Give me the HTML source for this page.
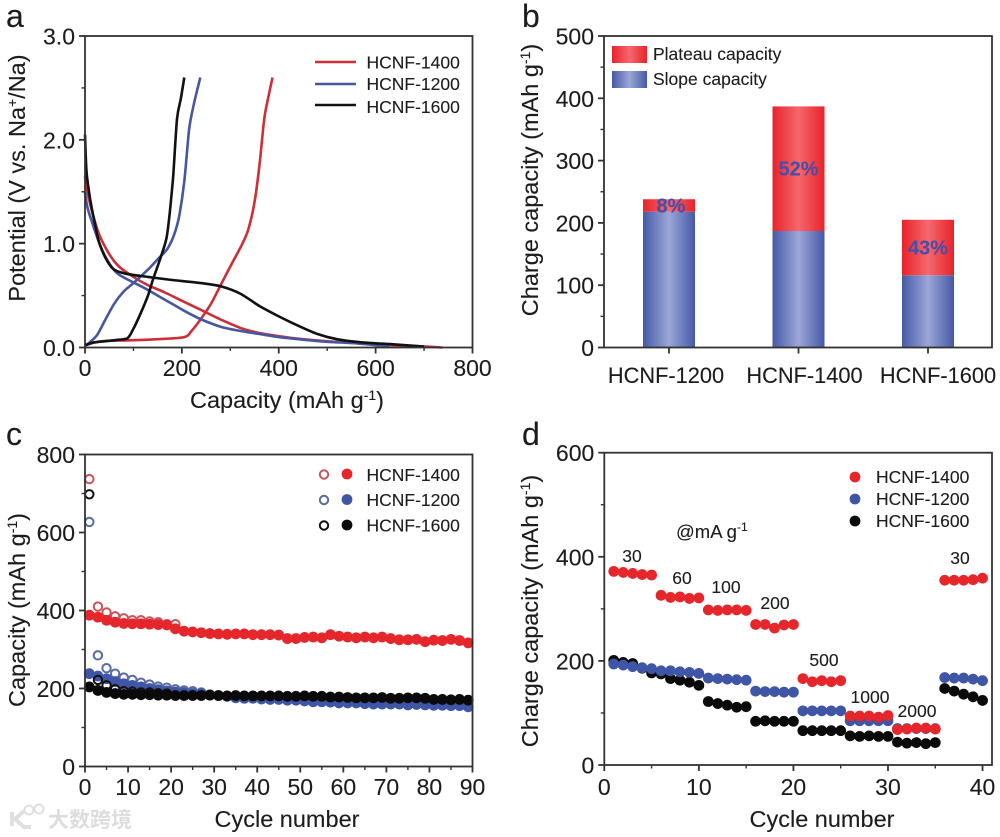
<!DOCTYPE html>
<html>
<head>
<meta charset="utf-8">
<title>HCNF electrochemical performance</title>
<style>
html,body{margin:0;padding:0;background:#fff;width:1000px;height:837px;overflow:hidden}
svg{display:block;filter:blur(0.35px)}
text{font-family:"Liberation Sans","Noto Sans CJK SC",sans-serif;fill:#1c1c1c;stroke:#1c1c1c;stroke-width:0.12px}
</style>
</head>
<body>
<svg id="fig" xmlns="http://www.w3.org/2000/svg" width="1000" height="837" viewBox="0 0 1000 837">
<defs>
<linearGradient id="gBlue" x1="0" x2="1" y1="0" y2="0"><stop offset="0" stop-color="#4659a6"/><stop offset="0.5" stop-color="#9ba7d6"/><stop offset="1" stop-color="#4659a6"/></linearGradient>
<linearGradient id="gRed" x1="0" x2="1" y1="0" y2="0"><stop offset="0" stop-color="#e9222a"/><stop offset="0.5" stop-color="#f4686e"/><stop offset="1" stop-color="#e9222a"/></linearGradient>
</defs>
<rect width="1000" height="837" fill="#fff"/>

<g id="panelA">
<text x="6" y="27" font-size="32">a</text>
<text x="287" y="408" font-size="23.500" text-anchor="middle">Capacity (mAh g<tspan font-size="14" dy="-8">-1</tspan><tspan dy="8">)</tspan></text>
<text transform="translate(25,178) rotate(-90)" font-size="23.500" text-anchor="middle">Potential (V vs. Na<tspan font-size="14" dy="-8">+</tspan><tspan dy="8">/Na)</tspan></text>
<g font-size="17.5">
<line x1="315" x2="356" y1="62" y2="62" stroke="#cc2f37" stroke-width="2.6"/>
<text x="366.500" y="68.500">HCNF-1400</text>
<line x1="315" x2="356" y1="84" y2="84" stroke="#47579f" stroke-width="2.6"/>
<text x="366.500" y="90">HCNF-1200</text>
<line x1="315" x2="356" y1="105" y2="105" stroke="#111" stroke-width="2.6"/>
<text x="366.500" y="113">HCNF-1600</text>
</g>
</g>

<g id="panelB">
<text x="522" y="27" font-size="32">b</text>
<text transform="translate(538,180) rotate(-90)" font-size="23.500" text-anchor="middle">Charge capacity (mAh g<tspan font-size="14" dy="-8">-1</tspan><tspan dy="8">)</tspan></text>
<g font-size="17.5">
<rect x="612" y="46" width="35" height="17" fill="url(#gRed)"/>
<text x="653" y="60">Plateau capacity</text>
<rect x="612" y="71" width="35" height="17" fill="url(#gBlue)"/>
<text x="653" y="85">Slope capacity</text>
</g>
</g>

<g id="panelC">
<text x="6" y="445" font-size="32">c</text>
<text x="287" y="827" font-size="23.500" text-anchor="middle">Cycle number</text>
<text transform="translate(25,610) rotate(-90)" font-size="23.500" text-anchor="middle">Capacity (mAh g<tspan font-size="14" dy="-8">-1</tspan><tspan dy="8">)</tspan></text>
<g font-size="17.5">
<circle cx="324" cy="474.500" r="4.200" fill="none" stroke="#c9545a" stroke-width="2"/>
<circle cx="347" cy="474" r="5.400" fill="#e5262b"/>
<text x="366.500" y="481">HCNF-1400</text>
<circle cx="324" cy="500" r="4.200" fill="none" stroke="#5a6aa5" stroke-width="2"/>
<circle cx="347" cy="499.500" r="5.400" fill="#3f55a5"/>
<text x="366.500" y="506">HCNF-1200</text>
<circle cx="324" cy="525.500" r="4.200" fill="none" stroke="#111" stroke-width="2"/>
<circle cx="347" cy="525" r="5.400" fill="#0a0a0a"/>
<text x="366.500" y="531.500">HCNF-1600</text>
</g>
</g>

<g id="panelD">
<text x="522" y="445" font-size="32">d</text>
<text x="822" y="827" font-size="23.500" text-anchor="middle">Cycle number</text>
<text transform="translate(538,611) rotate(-90)" font-size="23.500" text-anchor="middle">Charge capacity (mAh g<tspan font-size="14" dy="-8">-1</tspan><tspan dy="8">)</tspan></text>
<g font-size="17.5">
<circle cx="855" cy="477" r="5.400" fill="#e5262b"/>
<text x="876" y="483">HCNF-1400</text>
<circle cx="855" cy="499" r="5.400" fill="#3f55a5"/>
<text x="876" y="505">HCNF-1200</text>
<circle cx="855" cy="521" r="5.400" fill="#0a0a0a"/>
<text x="876" y="527">HCNF-1600</text>
</g>
<g font-size="17.5" text-anchor="middle">
<text x="676" y="538" font-size="18.5" text-anchor="start">@mA g<tspan font-size="12" dy="-7">-1</tspan></text>
<text x="632" y="562">30</text>
<text x="682" y="584">60</text>
<text x="726" y="593">100</text>
<text x="775" y="609">200</text>
<text x="824" y="666">500</text>
<text x="870" y="703">1000</text>
<text x="917" y="717">2000</text>
<text x="960" y="564">30</text>
</g>
</g>

<g opacity="0.9">
<path d="M12 812 V826 M24 811 L15 819 L24 827 H31" fill="none" stroke="#dcdcdc" stroke-width="4"/>
<circle cx="29" cy="810" r="4.500" fill="none" stroke="#dcdcdc" stroke-width="2"/>
<circle cx="39" cy="809" r="4.500" fill="none" stroke="#dcdcdc" stroke-width="2"/>
<text x="48" y="827" font-size="21" font-weight="700" style="fill:#dadada;stroke:none;font-family:'Noto Sans CJK SC',sans-serif">大数跨境</text>
</g>
</svg>

<script>
// Panel a: galvanostatic curves, capacity (mAh/g) and potential (V)
const a1400ChargeCap = [0,20,50,100,150,205,220,240,260,280,300,325,338,350,360,370,378,387];
const a1400ChargeV = [0.02,0.05,0.065,0.07,0.08,0.1,0.16,0.28,0.42,0.6,0.78,1.0,1.15,1.4,1.75,2.2,2.4,2.6];
const a1400DischargeCap = [0,5,15,30,50,70,100,130,165,200,240,280,320,360,400,450,500,600,700,738];
const a1400DischargeV = [1.65,1.5,1.3,1.08,0.9,0.78,0.68,0.6,0.53,0.45,0.36,0.27,0.19,0.14,0.11,0.08,0.06,0.03,0.01,0];
const a1200ChargeCap = [0,10,25,40,60,80,100,130,150,170,185,195,205,215,225,238];
const a1200ChargeV = [0.02,0.05,0.12,0.25,0.42,0.54,0.62,0.75,0.85,0.95,1.1,1.28,1.6,2.1,2.35,2.6];
const a1200DischargeCap = [0,5,15,30,45,65,90,120,150,180,210,240,280,320,360,400,450,500,560,628];
const a1200DischargeV = [1.5,1.35,1.2,1.0,0.85,0.72,0.65,0.58,0.5,0.42,0.34,0.27,0.2,0.16,0.13,0.1,0.075,0.055,0.04,0.01];
const a1600ChargeCap = [0,15,40,70,88,100,115,130,140,155,168,175,182,190,198,205];
const a1600ChargeV = [0.02,0.045,0.06,0.075,0.09,0.18,0.33,0.5,0.65,0.85,1.05,1.3,1.65,2.2,2.4,2.6];
const a1600DischargeCap = [0,3,10,20,30,45,60,85,130,180,240,280,320,360,400,440,480,520,570,640,700];
const a1600DischargeV = [2.05,1.7,1.45,1.2,1.0,0.84,0.75,0.71,0.68,0.65,0.62,0.59,0.52,0.4,0.3,0.21,0.13,0.08,0.05,0.03,0.01];
const aXTicks = ["0","200","400","600","800"];
const aYTicks = ["0.0","1.0","2.0","3.0"];

// Panel b: stacked bars
const bCategories = ["HCNF-1200","HCNF-1400","HCNF-1600"];
const bSlope = [218,187,116];
const bPlateau = [20,200,89];
const bPercent = ["8%","52%","43%"];
const bYTicks = ["0","100","200","300","400","500"];

// Panel c: long-term cycling (values at cycles 1,3,5,...)
const cFilled1400 = [388,383,375,370,367,366,366,365,364,363,353,347,345,343,341,340,339,340,340,338,338,338,337,328,328,331,332,330,338,334,332,330,332,330,332,328,325,325,326,320,324,323,326,323,317];
const cFilled1200 = [238,232,225,218,212,208,204,200,197,194,191,189,187,186,184,182,180,176,175,175,173,172,172,170,170,168,166,166,165,163,163,163,161,160,160,160,160,158,159,158,157,157,156,156,153];
const cFilled1600 = [204,195,190,187,185,185,184,184,183,183,182,182,182,182,183,182,181,182,181,181,181,181,181,180,180,181,180,180,178,178,177,176,176,176,177,175,175,176,176,175,172,172,171,172,170];
const cOpen1400 = [737,410,395,385,380,375,375,372,370,365,365];
const cOpen1200 = [627,285,252,238,228,222,215,210,205,202,198,195,193,190];
const cOpen1600 = [698,222,208,198,193,192,190,190,188,187];
const cXTicks = ["0","10","20","30","40","50","60","70","80","90"];
const cYTicks = ["0","200","400","600","800"];

// Panel d: rate capability (cycles 1..40)
const d1400 = [372,370,368,366,365,326,322,323,320,321,298,297,298,298,297,270,270,263,269,270,166,160,162,160,162,94,94,94,92,95,68,69,71,71,69,355,355,355,356,359];
const d1200 = [194,192,189,187,185,181,181,179,178,176,167,166,165,164,163,142,141,141,140,140,104,104,104,104,104,85,85,85,85,85,70,70,70,70,70,168,167,167,165,162];
const d1600 = [201,197,195,186,177,175,166,163,159,153,122,118,115,111,112,84,85,84,84,84,66,66,66,66,66,56,55,56,55,55,44,42,43,41,43,147,142,136,131,124];
const dXTicks = ["0","10","20","30","40"];
const dYTicks = ["0","200","400","600"];

const NS = "http://www.w3.org/2000/svg";
function make(parent, tag, props){
  const el = document.createElementNS(NS, tag);
  for (const k in props) el.setAttribute(k, props[k]);
  parent.appendChild(el);
  return el;
}
function scale(d0, d1, p0, p1){ return v => p0 + (v - d0) / (d1 - d0) * (p1 - p0); }
const AXIS = "#333";
const AXW = 1.8;

function smoothPath(px, py){
  let d = "M" + px[0].toFixed(1) + " " + py[0].toFixed(1);
  const n = px.length, k = 1 / 7;
  for (let i = 0; i < n - 1; i++) {
    const a = Math.max(i - 1, 0), b = Math.min(i + 2, n - 1);
    const c1x = px[i] + (px[i+1] - px[a]) * k, c1y = py[i] + (py[i+1] - py[a]) * k;
    const c2x = px[i+1] - (px[b] - px[i]) * k, c2y = py[i+1] - (py[b] - py[i]) * k;
    d += "C" + c1x.toFixed(1) + " " + c1y.toFixed(1) + " " + c2x.toFixed(1) + " " + c2y.toFixed(1) + " " + px[i+1].toFixed(1) + " " + py[i+1].toFixed(1);
  }
  return d;
}
function drawFrame(parent, box){
  const f = make(parent, "rect", {x:box.l, y:box.t, width:box.r-box.l, height:box.b-box.t, fill:"none", stroke:AXIS, "stroke-width":AXW});
  
  
}
function drawTicks(parent, box, xs, xLabels, ys, yLabels, xMinor, yMinor, xNudge){
  const g = make(parent, "g", {});
  
  
  xs.forEach((x, i) => {
    const t = make(g, "line", {x1:x, x2:x, y1:box.b, y2:box.b+6, stroke:AXIS, "stroke-width":AXW});
    
    
    const lb = make(g, "text", {x:x+(xNudge?xNudge[i]:0), y:box.labelY, "font-size":box.xFont||23, "text-anchor":"middle"});
    lb.textContent = xLabels[i];
    
    
  });
  ys.forEach((y, i) => {
    const t = make(g, "line", {x1:box.l-6, x2:box.l, y1:y, y2:y, stroke:AXIS, "stroke-width":AXW});
    
    
    const lb = make(g, "text", {x:box.l-10, y:y+8.5, "font-size":23, "text-anchor":"end"});
    lb.textContent = yLabels[i];
    
    
  });
  xMinor.forEach(x => {
    const t = make(g, "line", {x1:x, x2:x, y1:box.b, y2:box.b+3.5, stroke:AXIS, "stroke-width":1.4});
    
    
  });
  yMinor.forEach(y => {
    const t = make(g, "line", {x1:box.l-3.5, x2:box.l, y1:y, y2:y, stroke:AXIS, "stroke-width":1.4});
    
    
  });
}
function midpoints(labels){
  const out = [];
  for (let i = 0; i < labels.length - 1; i++) out.push((Number(labels[i]) + Number(labels[i+1])) / 2);
  return out;
}

/* ---------- Panel a ---------- */
(function(){
  const box = {l:85, r:472.5, t:36, b:347.5, labelY:376};
  const x = scale(0, 800, box.l, box.r), y = scale(0, 3, box.b, box.t);
  const p = document.getElementById("panelA");
  const curves = [
    [a1400ChargeCap, a1400ChargeV, "#cc2f37", "curve-1400-charge"],
    [a1400DischargeCap, a1400DischargeV, "#cc2f37", "curve-1400-discharge"],
    [a1200ChargeCap, a1200ChargeV, "#47579f", "curve-1200-charge"],
    [a1200DischargeCap, a1200DischargeV, "#47579f", "curve-1200-discharge"],
    [a1600ChargeCap, a1600ChargeV, "#111111", "curve-1600-charge"],
    [a1600DischargeCap, a1600DischargeV, "#111111", "curve-1600-discharge"]
  ];
  curves.forEach(c => {
    const l = make(p, "path", {d:smoothPath(c[0].map(x), c[1].map(y)), fill:"none", stroke:c[2], "stroke-width":2.6, "stroke-linejoin":"round"});
    
    
  });
  drawFrame(p, box);
  drawTicks(p, box, aXTicks.map(v => x(+v)), aXTicks, aYTicks.map(v => y(+v)), aYTicks,
    midpoints(aXTicks).map(x), midpoints(aYTicks).map(y));
})();

/* ---------- Panel b ---------- */
(function(){
  const box = {l:604, r:992, t:36, b:347.5, labelY:383, xFont:21.8};
  const y = scale(0, 500, box.b, box.t);
  const cx = i => 669 + i * 129.5;
  const w = 52;
  const p = document.getElementById("panelB");
  const labelNudge = [-3, 6, 10];
  bCategories.forEach((c, i) => {
    const s = make(p, "rect", {x:cx(i)-w/2, y:y(bSlope[i]), width:w, height:y(0)-y(bSlope[i]), fill:"url(#gBlue)"});
    
    
    const top = bSlope[i] + bPlateau[i];
    const r = make(p, "rect", {x:cx(i)-w/2, y:y(top), width:w, height:y(bSlope[i])-y(top), fill:"url(#gRed)"});
    
    
    const pct = make(p, "text", {x:cx(i)+(i===0?2:0), y:y(bSlope[i]+bPlateau[i]/2)+7, "font-size":20, "font-weight":700, "text-anchor":"middle", style:"fill:#4a4ea6;stroke:#4a4ea6"});
    pct.textContent = bPercent[i];
    
    
  });
  drawFrame(p, box);
  drawTicks(p, box, bCategories.map((c, i) => cx(i)), bCategories, bYTicks.map(v => y(+v)), bYTicks,
    [], midpoints(bYTicks).map(y), labelNudge);
})();

/* ---------- Panel c ---------- */
(function(){
  const box = {l:85, r:472.5, t:454.5, b:766.5, labelY:795};
  const x = scale(0, 90, box.l, box.r), y = scale(0, 800, box.b, box.t);
  const p = document.getElementById("panelC");
  const cycle = i => 2 * i + 1;
  function openSeries(vals, col, name){
    vals.forEach((v, i) => {
      const m = make(p, "circle", {cx:x(cycle(i)), cy:y(v), r:4.2, fill:"none", stroke:col, "stroke-width":2});
      
      
    });
  }
  function filledSeries(vals, col, name){
    vals.forEach((v, i) => {
      const m = make(p, "circle", {cx:x(cycle(i)), cy:y(v), r:5.4, fill:col});
      
      
    });
  }
  openSeries(cOpen1400, "#c9545a", "point-open-1400");
  filledSeries(cFilled1400, "#e5262b", "point-filled-1400");
  openSeries(cOpen1200, "#5a6aa5", "point-open-1200");
  filledSeries(cFilled1200, "#3f55a5", "point-filled-1200");
  openSeries(cOpen1600, "#111111", "point-open-1600");
  filledSeries(cFilled1600, "#0a0a0a", "point-filled-1600");
  drawFrame(p, box);
  drawTicks(p, box, cXTicks.map(v => x(+v)), cXTicks, cYTicks.map(v => y(+v)), cYTicks,
    midpoints(cXTicks).map(x), midpoints(cYTicks).map(y));
})();

/* ---------- Panel d ---------- */
(function(){
  const box = {l:604.3, r:992, t:452.7, b:765, labelY:795};
  const x = scale(0, 41, box.l, box.r), y = scale(0, 600, box.b, box.t);
  const p = document.getElementById("panelD");
  function series(vals, col, name){
    vals.forEach((v, i) => {
      const m = make(p, "circle", {cx:x(i+1), cy:y(v), r:5.4, fill:col});
      
      
    });
  }
  series(d1600, "#0a0a0a", "point-1600");
  series(d1200, "#3f55a5", "point-1200");
  series(d1400, "#e5262b", "point-1400");
  drawFrame(p, box);
  drawTicks(p, box, dXTicks.map(v => x(+v)), dXTicks, dYTicks.map(v => y(+v)), dYTicks,
    midpoints(dXTicks).map(x), midpoints(dYTicks).map(y));
})();
</script>
</body>
</html>
